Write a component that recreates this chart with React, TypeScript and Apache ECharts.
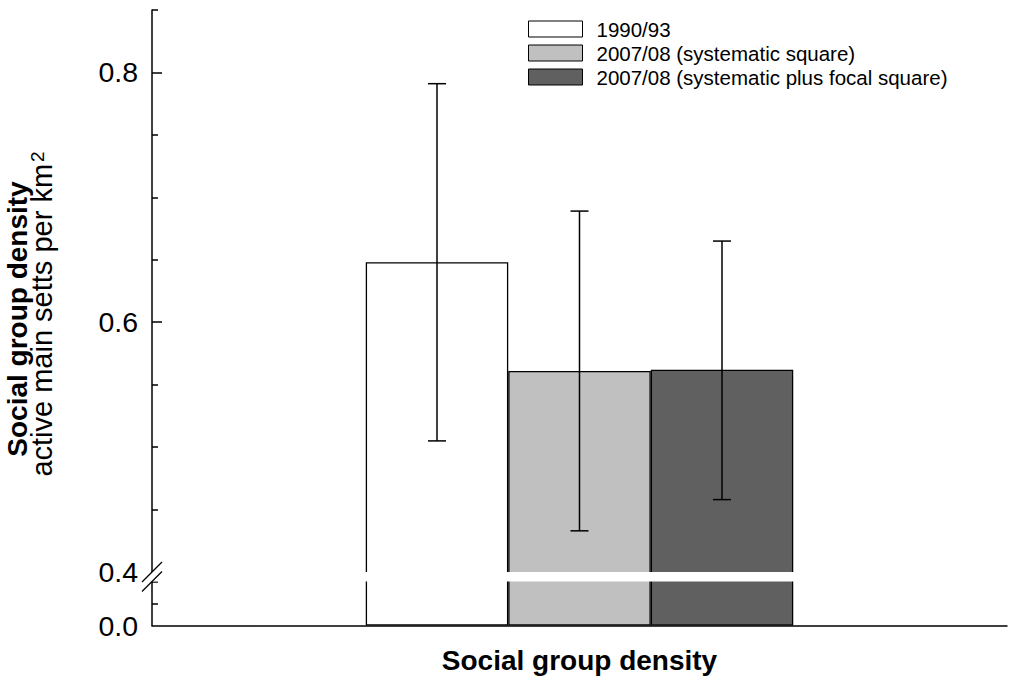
import React, { useEffect, useRef } from "react";
import * as echarts from "echarts";

// ---- data ----
const categories = ["Social group density"];
const seriesNames = [
  "1990/93",
  "2007/08 (systematic square)",
  "2007/08 (systematic plus focal square)",
];
const seriesColors = ["#ffffff", "#c0c0c0", "#606060"];
const means = [0.648, 0.561, 0.562];
const errUpper = [0.791, 0.689, 0.665];
const errLower = [0.505, 0.433, 0.458];
const labelValues = [0.0, 0.4, 0.6, 0.8];
const labelTexts = ["0.0", "0.4", "0.6", "0.8"];
const majorTickValues = [0.6, 0.8];
const minorTickUpper = [0.45, 0.5, 0.55, 0.65, 0.7, 0.75, 0.85];
const minorTickLower = [0.2, 0.4];

// ---- broken axis mapping ----
const BREAK = 0.4;
const LOWER_SCALE = 0.088; // compression of 0..0.4 segment
const GAP = 0.0076;
const UPPER_OFFSET = BREAK * LOWER_SCALE + GAP;
const AXIS_TOP = 0.85;
const lowerT = (v: number) => v * LOWER_SCALE;
const upperT = (v: number) => UPPER_OFFSET + (v - BREAK);
const toAxis = (v: number) => (v <= BREAK ? lowerT(v) : upperT(v));
const labelT = (v: number) => (v <= 0 ? 0 : upperT(v));

const FONT = '"Liberation Sans", Arial, Helvetica, sans-serif';
const BAR_WIDTH = 142.5;

export default function App() {
  const ref = useRef<HTMLDivElement>(null);
  useEffect(() => {
    document.body.style.margin = "0";
    if (!ref.current) return;
    const chart = echarts.init(ref.current, null, { renderer: "svg" });
    const labelTs = labelValues.map(labelT);
    const formatLabel = (val: number) => {
      let best = 0;
      let bd = Infinity;
      labelTs.forEach((t, i) => {
        const d = Math.abs(t - val);
        if (d < bd) {
          bd = d;
          best = i;
        }
      });
      return labelTexts[best];
    };

    const barSeries = seriesNames.map((name, i) => ({
      name,
      type: "bar",
      data: [toAxis(means[i])],
      barWidth: BAR_WIDTH,
      barGap: "0%",
      itemStyle: {
        color: seriesColors[i],
        borderColor: "#000",
        borderWidth: 1.3,
      },
      z: 2,
    }));

    const errData = seriesNames.map((_, i) => [
      0,
      toAxis(errLower[i]),
      toAxis(errUpper[i]),
      i,
    ]);

    const option: any = {
      animation: false,
      textStyle: { fontFamily: FONT },
      grid: { left: 152, right: 4, top: 10, bottom: 53.5, containLabel: false },
      legend: {
        orient: "vertical",
        left: 523,
        top: 12,
        itemWidth: 54,
        itemHeight: 16,
        itemGap: 0,
        icon: "rect",
        selectedMode: false,
        data: seriesNames,
        textStyle: {
          fontFamily: FONT,
          fontSize: 20.5,
          color: "#000",
          lineHeight: 24,
          padding: [0, 0, 0, 9],
        },
        itemStyle: { borderColor: "#000", borderWidth: 1 },
      },
      xAxis: {
        type: "category",
        data: categories,
        axisLine: { lineStyle: { color: "#000", width: 1.5 } },
        axisTick: { show: false },
        axisLabel: {
          color: "#000",
          fontFamily: FONT,
          fontSize: 28,
          fontWeight: "bold",
          margin: 21,
        },
      },
      yAxis: [
        {
          type: "value",
          min: 0,
          max: upperT(AXIS_TOP),
          splitLine: { show: false },
          axisLine: { show: true, lineStyle: { color: "#000", width: 1.5 } },
          axisTick: {
            show: true,
            inside: true,
            length: 10,
            lineStyle: { color: "#000", width: 1.5 },
            customValues: majorTickValues.map(upperT),
          },
          axisLabel: {
            show: true,
            color: "#000",
            fontFamily: FONT,
            fontSize: 28.5,
            margin: 14,
            customValues: labelTs,
            formatter: (v: number) => formatLabel(v),
          },
        },
        {
          type: "value",
          min: 0,
          max: upperT(AXIS_TOP),
          position: "left",
          splitLine: { show: false },
          axisLine: { show: false },
          axisLabel: { show: false },
          axisTick: {
            show: true,
            inside: true,
            length: 6,
            lineStyle: { color: "#000", width: 1.5 },
            customValues: [
              ...minorTickUpper.map(upperT),
              ...minorTickLower.map(lowerT),
            ],
          },
        },
      ],
      series: [
        ...barSeries,
        {
          type: "custom",
          name: "errors",
          z: 5,
          silent: true,
          data: errData,
          renderItem: (params: any, api: any) => {
            const idx = api.value(3);
            const lo = api.coord([api.value(0), api.value(1)]);
            const hi = api.coord([api.value(0), api.value(2)]);
            const x = lo[0] + (idx - 1) * BAR_WIDTH;
            const cap = 9;
            const st = { stroke: "#000", lineWidth: 1.5 };
            return {
              type: "group",
              children: [
                { type: "line", shape: { x1: x, y1: lo[1], x2: x, y2: hi[1] }, style: st },
                { type: "line", shape: { x1: x - cap, y1: hi[1], x2: x + cap, y2: hi[1] }, style: st },
                { type: "line", shape: { x1: x - cap, y1: lo[1], x2: x + cap, y2: lo[1] }, style: st },
              ],
            };
          },
        },
        {
          type: "custom",
          name: "break",
          z: 20,
          silent: true,
          data: [[0, lowerT(BREAK), upperT(BREAK)]],
          renderItem: (params: any, api: any) => {
            const cs = params.coordSys;
            const yLow = api.coord([api.value(0), api.value(1)])[1];
            const yHigh = api.coord([api.value(0), api.value(2)])[1];
            const ax = cs.x;
            const d = 10;
            const st = { stroke: "#000", lineWidth: 1.2 };
            return {
              type: "group",
              children: [
                {
                  type: "rect",
                  shape: { x: ax - 3, y: yHigh, width: cs.width + 3, height: yLow - yHigh },
                  style: { fill: "#fff" },
                },
                { type: "line", shape: { x1: ax - d, y1: yHigh + d, x2: ax + d, y2: yHigh - d }, style: st },
                { type: "line", shape: { x1: ax - d, y1: yLow + d, x2: ax + d, y2: yLow - d }, style: st },
              ],
            };
          },
        },
      ],
      graphic: [
        {
          type: "text",
          x: 17,
          y: 319,
          rotation: Math.PI / 2,
          style: {
            text: "Social group density",
            fontFamily: FONT,
            fontSize: 28,
            fontWeight: "bold",
            fill: "#000",
            align: "center",
            verticalAlign: "middle",
          },
        },
        {
          type: "text",
          x: 42,
          y: 314,
          rotation: Math.PI / 2,
          style: {
            text: "active main setts per km{sup|2}",
            fontFamily: FONT,
            fontSize: 29,
            fill: "#000",
            align: "center",
            verticalAlign: "middle",
            rich: {
              sup: {
                fontFamily: FONT,
                fontSize: 19,
                fill: "#000",
                verticalAlign: "top",
                padding: [0, 0, 10, 2],
              },
            },
          },
        },
      ],
    };
    chart.setOption(option);
    return () => chart.dispose();
  }, []);
  return <div ref={ref} style={{ width: 1011, height: 679 }} />;
}
